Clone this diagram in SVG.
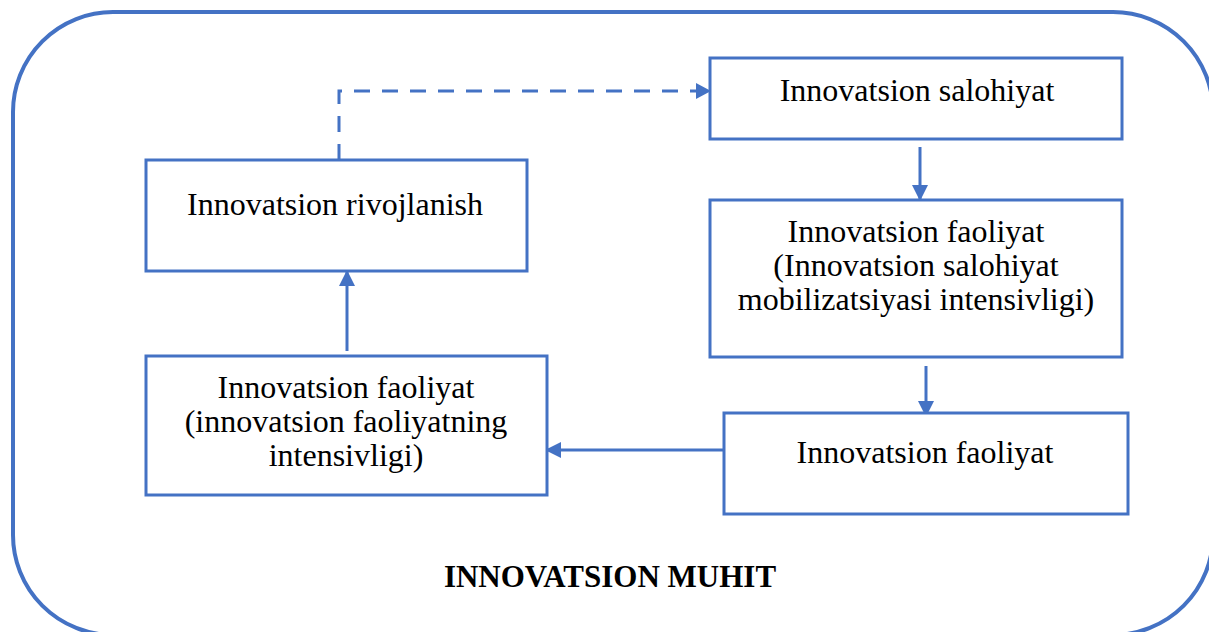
<svg xmlns="http://www.w3.org/2000/svg" width="1209" height="632" viewBox="0 0 1209 632">
<style>
.box{fill:#fff;stroke:#4472C4;stroke-width:3}
.t{font-family:"Liberation Serif","Times New Roman",serif;font-size:32px;fill:#000;text-anchor:middle}
.b{font-weight:bold;font-size:31px}
.c{fill:none;stroke:#4472C4;stroke-width:3}
.d{stroke-dasharray:16 12}
</style>
<defs>
<marker id="ah" markerWidth="16" markerHeight="16" refX="14" refY="8" viewBox="0 0 16 16" markerUnits="userSpaceOnUse" orient="auto">
<path d="M0,0 L16,8 L0,16 Z" fill="#4472C4"/>
</marker>
</defs>
<rect id="outer" x="13" y="12" width="1200" height="623" rx="100" ry="100" fill="none" stroke="#4472C4" stroke-width="4"/>
<g id="connectors">
<path class="c d" d="M339,160 V91 H696" />
<path d="M696,83 L711,91 L696,99 Z" fill="#4472C4"/>
<path class="c" d="M920,147 V199" marker-end="url(#ah)"/>
<path class="c" d="M926,366 V415" marker-end="url(#ah)"/>
<path class="c" d="M723,450 H547" marker-end="url(#ah)"/>
<path class="c" d="M347,351 V272" marker-end="url(#ah)"/>
</g>
<g id="n1">
<rect class="box" x="710" y="58" width="412" height="81"/>
<text class="t" x="917" y="101">Innovatsion salohiyat</text>
</g>
<g id="n2">
<rect class="box" x="710" y="200" width="412" height="157"/>
<text class="t" x="916" y="242">Innovatsion faoliyat</text>
<text class="t" x="916" y="276">(Innovatsion salohiyat</text>
<text class="t" x="916" y="310">mobilizatsiyasi intensivligi)</text>
</g>
<g id="n3">
<rect class="box" x="724" y="413" width="404" height="101"/>
<text class="t" x="925" y="463">Innovatsion faoliyat</text>
</g>
<g id="n4">
<rect class="box" x="146" y="356" width="401" height="139"/>
<text class="t" x="346" y="398">Innovatsion faoliyat</text>
<text class="t" x="346" y="432">(innovatsion faoliyatning</text>
<text class="t" x="346" y="466">intensivligi)</text>
</g>
<g id="n5">
<rect class="box" x="146" y="160" width="381" height="111"/>
<text class="t" x="335" y="215">Innovatsion rivojlanish</text>
</g>
<g id="label">
<text class="t b" x="610" y="587">INNOVATSION MUHIT</text>
</g>
</svg>
